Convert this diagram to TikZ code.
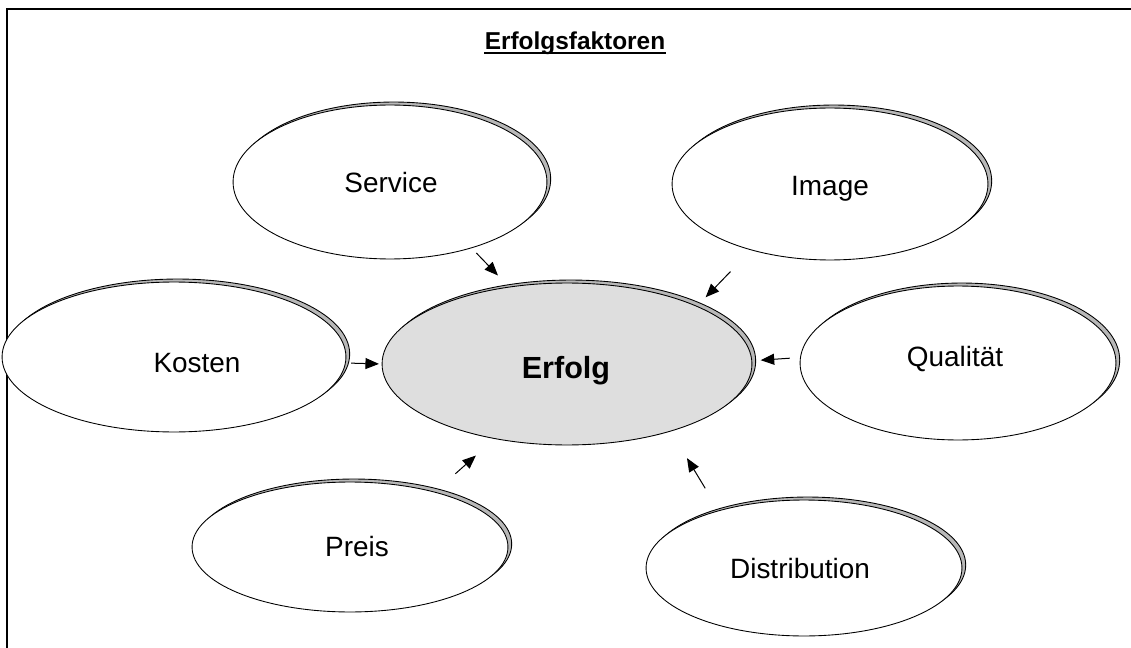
\documentclass[tikz,border=0pt]{standalone}
\usepackage{fontspec}
\setmainfont{Liberation Sans}
\usetikzlibrary{shapes.geometric,shadows,arrows.meta}
\definecolor{shadegray}{gray}{0.72}
\definecolor{corefill}{gray}{0.87}
\begin{document}
\begin{tikzpicture}[x=0.02cm,y=-0.02cm,
  bubble/.style 2 args={ellipse, draw=black, line width=0.5pt, fill=white,
    minimum width=#1*0.04cm, minimum height=#2*0.04cm, inner sep=0pt,
    copy shadow={shadow xshift=0.075cm, shadow yshift=0.06cm,
      fill=shadegray, draw=black, line width=0.5pt}},
  lbl/.style={font=\fontsize{15.9}{19}\selectfont, anchor=base, inner sep=0pt},
  arr/.style={line width=0.02cm, -{Triangle[length=0.27cm,width=0.22cm]}}]

\useasboundingbox (0,0) rectangle (1131,648);

% frame
\draw[line width=0.045cm] (7,648) -- (7,9) -- (1131,9);

% title
\node[font=\bfseries\fontsize{13.9}{16}\selectfont, anchor=base, inner sep=0pt]
  (ttl) at (575,50) {Erfolgsfaktoren};
\draw[line width=0.04cm] ([yshift=-0.06cm]ttl.base west) -- ([yshift=-0.06cm]ttl.base east);

% factors
\node[bubble={157}{77}] (svc) at (390,182) {};
\node[bubble={158}{76}] (img) at (830,184) {};
\node[bubble={172}{75}] (kos) at (174,357) {};
\node[bubble={158}{77}] (qua) at (958,363) {};
\node[bubble={158}{65}] (pre) at (350,547) {};
\node[bubble={158}{68}] (dis) at (804,568) {};
\node[bubble={185}{81}, fill=corefill] (erf) at (567,364) {};

% texts
\node[lbl] (svc-t) at (391,193) {Service};
\node[lbl] (img-t) at (830,196) {Image};
\node[lbl] (kos-t) at (197,372) {Kosten};
\node[lbl] (qua-t) at (955,366) {Qualität};
\node[lbl] (pre-t) at (357,556) {Preis};
\node[lbl] (dis-t) at (800,578) {Distribution};
\node[font=\bfseries\fontsize{17.4}{20}\selectfont, anchor=base, inner sep=0pt]
  (erf-t) at (566,378) {Erfolg};

% influences
\draw[arr, shorten <=0.134cm, shorten >=0.312cm] (svc.-39.5) -- (erf.127.7);
\draw[arr, shorten <=0.592cm, shorten >=0.244cm] (img.220.2) -- (erf.24.5);
\draw[arr, shorten <=0.106cm, shorten >=0.054cm] (kos.-2) -- (erf.180);
\draw[arr, shorten <=0.206cm, shorten >=0.17cm] (qua.178.2) -- (erf.1.9);
\draw[arr, shorten <=0.544cm, shorten >=0.5cm] (pre.33.5) -- (erf.226);
\draw[arr, shorten <=0.516cm, shorten >=0.624cm] (dis.146) -- (erf.-33.8);
\end{tikzpicture}
\end{document}
